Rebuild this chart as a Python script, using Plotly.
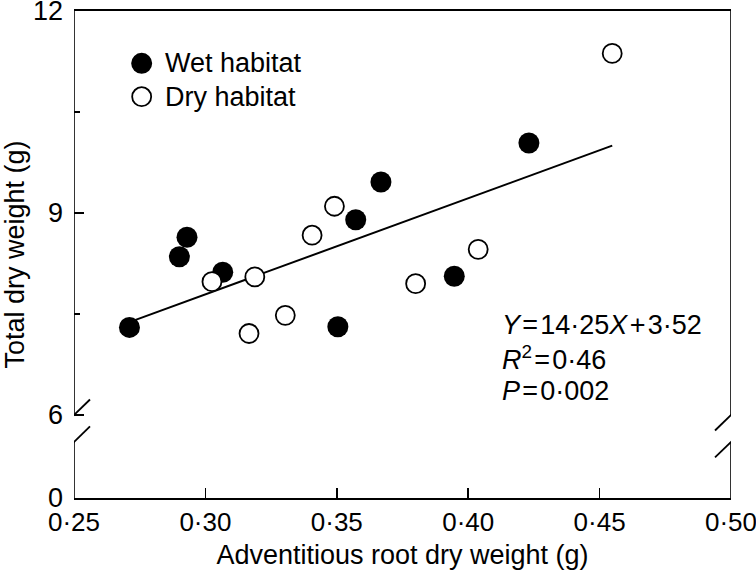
import plotly.graph_objects as go

# ---- data ----
wet_x = [0.2711, 0.2901, 0.2930, 0.3066, 0.3504, 0.3572, 0.3668, 0.3947, 0.4231]
wet_y = [7.30, 8.35, 8.64, 8.12, 7.31, 8.90, 9.46, 8.06, 10.04]
dry_x = [0.3025, 0.3188, 0.3166, 0.3304, 0.3406, 0.3491, 0.3800, 0.4038, 0.4548]
dry_y = [7.98, 8.05, 7.21, 7.48, 8.67, 9.10, 7.95, 8.46, 11.37]
fit_x = [0.2711, 0.4548]
fit_y = [7.38, 10.00]

x_tick_vals = [0.25, 0.30, 0.35, 0.40, 0.45, 0.50]
x_tick_text = ["0·25", "0·30", "0·35", "0·40", "0·45", "0·50"]
y_tick_text = ["0", "6", "9", "12"]

# broken y axis: the 0..6 stretch is compressed; "0" sits at Y_ZERO_POS
Y_ZERO_POS = 4.767
Y_TOP = 12
BREAK_HI = 6.0
BREAK_LO = 5.6
y_tick_vals = [Y_ZERO_POS, 6, 9, 12]

FONT = "Liberation Sans, Arial, sans-serif"
FS = 27

fig = go.Figure()
fig.add_trace(go.Scatter(x=fit_x, y=fit_y, mode="lines",
                         line=dict(color="black", width=2), showlegend=False))
fig.add_trace(go.Scatter(x=wet_x, y=wet_y, mode="markers", name="Wet habitat",
                         marker=dict(size=21, color="black", line=dict(width=0)),
                         showlegend=False))
fig.add_trace(go.Scatter(x=dry_x, y=dry_y, mode="markers", name="Dry habitat",
                         marker=dict(size=19, color="white", line=dict(color="black", width=1.8)),
                         showlegend=False))

shapes = []
# vertical frame segments with the break gap
for xv in (0.25, 0.50):
    shapes.append(dict(type="line", xref="x", yref="y", x0=xv, x1=xv, y0=BREAK_HI, y1=Y_TOP,
                       line=dict(color="black", width=1.6)))
    shapes.append(dict(type="line", xref="x", yref="y", x0=xv, x1=xv, y0=Y_ZERO_POS, y1=BREAK_LO,
                       line=dict(color="black", width=1.6)))
    for yb in (BREAK_HI, BREAK_LO):
        shapes.append(dict(type="line", xref="x", yref="y",
                           xsizemode="pixel", ysizemode="pixel",
                           xanchor=xv, yanchor=yb,
                           x0=-16, x1=16, y0=-15.5, y1=15.5,
                           line=dict(color="black", width=1.8)))

# legend symbols
shapes.append(dict(type="circle", xref="paper", yref="paper", xsizemode="pixel", ysizemode="pixel",
                   xanchor=0.103, yanchor=0.8926, x0=-10.5, x1=10.5, y0=-10.5, y1=10.5,
                   fillcolor="black", line=dict(color="black", width=0)))
shapes.append(dict(type="circle", xref="paper", yref="paper", xsizemode="pixel", ysizemode="pixel",
                   xanchor=0.103, yanchor=0.824, x0=-9.5, x1=9.5, y0=-9.5, y1=9.5,
                   fillcolor="white", line=dict(color="black", width=1.8)))

HS = "\u200a"
annotations = [
    dict(text="Wet habitat", xref="paper", yref="paper", x=0.1355, y=0.8926,
         xanchor="left", yanchor="middle", showarrow=False, font=dict(size=FS)),
    dict(text="Dry habitat", xref="paper", yref="paper", x=0.1355, y=0.824,
         xanchor="left", yanchor="middle", showarrow=False, font=dict(size=FS)),
    dict(text=f"<i>Y</i>{HS}={HS}14·25<i>X</i>{HS}+{HS}3·52", xref="x", yref="y",
         x=0.412, y=7.336, xanchor="left", yanchor="middle", showarrow=False, font=dict(size=FS)),
    dict(text=f"<i>R</i><sup>2</sup>{HS}={HS}0·46", xref="x", yref="y",
         x=0.412, y=6.846, xanchor="left", yanchor="middle", showarrow=False, font=dict(size=FS)),
    dict(text=f"<i>P</i>{HS}={HS}0·002", xref="x", yref="y",
         x=0.412, y=6.356, xanchor="left", yanchor="middle", showarrow=False, font=dict(size=FS)),
]

fig.update_layout(
    width=756, height=581,
    margin=dict(l=74, r=25, t=11, b=83),
    paper_bgcolor="white", plot_bgcolor="white",
    font=dict(family=FONT, size=FS, color="black"),
    shapes=shapes, annotations=annotations,
    showlegend=False,
)
fig.update_xaxes(
    range=[0.25, 0.50], tickvals=x_tick_vals, ticktext=x_tick_text,
    tickfont=dict(size=26),
    ticks="inside", ticklen=10, tickwidth=1.5, tickcolor="black",
    showline=True, mirror=True, linecolor="black", linewidth=1.6,
    showgrid=False, zeroline=False, automargin=False,
    ticklabelstandoff=0, ticklabeloverflow="allow",
    title=dict(text="Adventitious root dry weight (g)", standoff=9, font=dict(size=FS)),
)
fig.update_yaxes(
    range=[Y_ZERO_POS, Y_TOP], tickvals=y_tick_vals, ticktext=y_tick_text,
    ticks="inside", ticklen=10, tickwidth=1.5, tickcolor="black",
    minor=dict(tickvals=[7.5, 10.5], ticks="inside", ticklen=6, tickwidth=1.5, tickcolor="black"),
    showline=False, showgrid=False, zeroline=False, automargin=False,
    ticklabelstandoff=10, ticklabeloverflow="allow",
    title=dict(text="Total dry weight (g)", standoff=10, font=dict(size=FS)),
)

fig.write_html("out.html",
               config={"displayModeBar": False, "staticPlot": True},
               post_script="document.body.style.margin='0';document.body.style.padding='0';")
